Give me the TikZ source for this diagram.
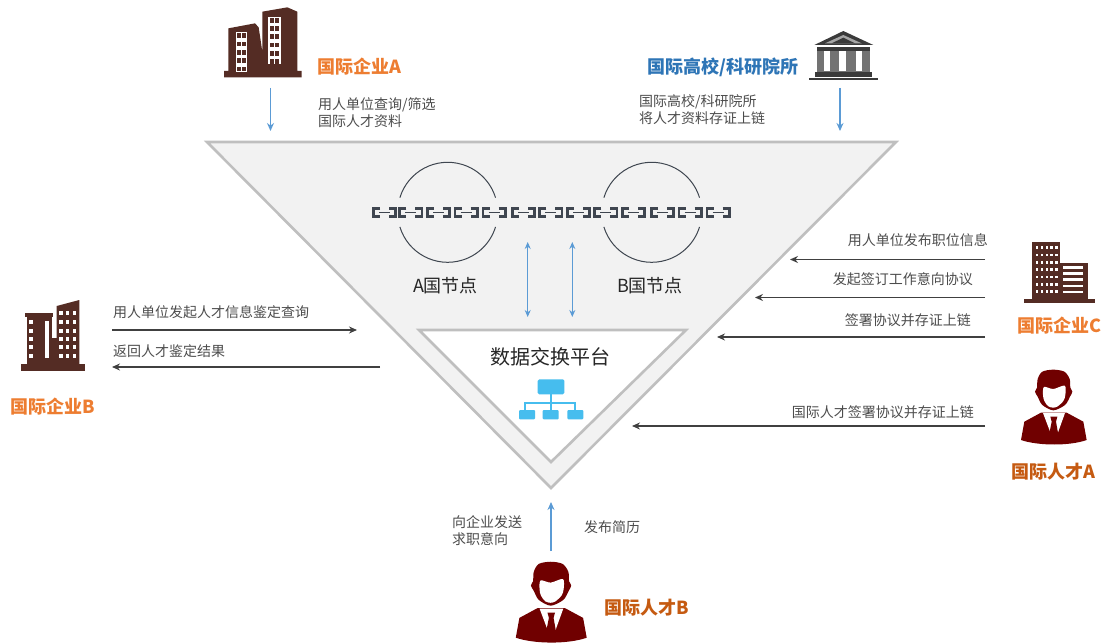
\documentclass[tikz,border=0pt]{standalone}
\usepackage{fontspec}
\setmainfont{Noto Sans CJK SC}
\usepackage{tikz}
\usetikzlibrary{positioning,arrows.meta}

\definecolor{brickdark}{HTML}{542C24}
\definecolor{suitred}{HTML}{700000}
\definecolor{templegray}{HTML}{3A3A3A}
\definecolor{chaingray}{HTML}{3F4650}
\definecolor{flowblue}{HTML}{5B9BD5}
\definecolor{netblue}{HTML}{46BDEE}
\definecolor{bandgray}{HTML}{F2F2F2}
\definecolor{edgegray}{HTML}{BFBFBF}
\definecolor{orgorange}{HTML}{ED7D31}
\definecolor{orgblue}{HTML}{2E75B6}
\definecolor{orgrust}{HTML}{C55A11}

\tikzset{
    person/.pic={
        \fill[suitred] plot[smooth cycle] coordinates {(115,14) (148,20) (164,42) (166,68) (172,80) (165,95) (150,120) (115,136) (82,120) (68,95) (60,80) (66,68) (68,42) (82,20)};
        \fill[white] plot[smooth cycle] coordinates {(87,66) (115,72) (149,62) (151,90) (145,108) (128,124) (115,128) (100,124) (88,108) (84,90)};
        \fill[suitred] (78,143) -- (28,170) -- (18,225) .. controls (70,243) and (165,243) .. (215,225) -- (205,170) -- (155,143) -- cycle;
        \fill[white] (84,144) -- (150,144) -- (128,205) -- (112,218) -- cycle;
        \fill[suitred] (106,155) -- (127,155) -- (123,170) -- (131,215) -- (116,234) -- (101,215) -- (110,170) -- cycle;
    },
    towerA/.pic={
        \fill[brickdark] (72,232) -- (72,213) -- (85,213) -- (85,85) -- (165,70) -- (176,82) -- (187,155) -- (187,35) -- (262,22) -- (292,35) -- (292,213) -- (305,213) -- (305,232) -- cycle;
        \fill[white] (108,95) rectangle (140,215);
        \fill[white] (205,50) rectangle (242,192);
        \foreach \cx in {118,132} \foreach \cy in {107,132,157,182,207}
            \fill[brickdark] (\cx-6,\cy-7) rectangle (\cx+5,\cy+7);
        \foreach \cx in {217,232} \foreach \cy in {61,85,110,135,160,184}
            \fill[brickdark] (\cx-6,\cy-7) rectangle (\cx+6,\cy+7);
    },
    towerB/.pic={
        \fill[brickdark] (63,222) rectangle (254,242);
        \fill[brickdark] (75,70) rectangle (160,80);
        \fill[brickdark] (80,78) rectangle (157,222);
        \fill[brickdark] (155,145) rectangle (172,222);
        \fill[brickdark] (170,48) -- (238,30) -- (238,222) -- (170,222) -- cycle;
        \fill[white] (134,92) rectangle (146,205);
        \foreach \cy in {97,122,148,172,197}
            \fill[white] (88,\cy-6) rectangle (100,\cy+6);
        \foreach \cx in {183,203,223} \foreach \cy in {70,96,122,146,172,197}
            \fill[white] (\cx-5,\cy-6) rectangle (\cx+5,\cy+6);
    },
    towerC/.pic={
        \fill[brickdark] (72,207) rectangle (284,220);
        \fill[brickdark] (95,35) rectangle (181,207);
        \fill[brickdark] (181,98) rectangle (264,207);
        \foreach \cx in {111,126,141,155,169} \foreach \cy in {53,75,97,119,141,163,185}
            \fill[white] (\cx-4,\cy-4) rectangle (\cx+4,\cy+4);
        \foreach \cy in {112,130,149,168,186}
            \fill[white] (189,\cy-4) rectangle (250,\cy+4);
    },
    temple/.pic={
        \fill[templegray] (115,18) -- (205,60) -- (28,60) -- cycle;
        \fill[gray!70] (115,30) -- (170,55) -- (60,55) -- cycle;
        \fill[templegray] (115,38) -- (150,55) -- (80,55) -- cycle;
        \fill[templegray] (35,66) rectangle (195,148);
        \fill[black!55] (35,78) rectangle (195,140);
        \fill[white] (57,78) rectangle (76,138);
        \fill[white] (103,78) rectangle (123,138);
        \fill[white] (152,78) rectangle (170,138);
        \fill[templegray] (30,142) rectangle (200,155);
        \fill[templegray] (12,160) rectangle (218,165);
    },
    chainlink/.pic={
        \draw[chaingray, line width=2.6pt] (8,-4.2) -- (1.3,-4.2) -- (1.3,4.2) -- (8,4.2);
        \draw[chaingray, line width=2.6pt] (17,-4.2) -- (23.7,-4.2) -- (23.7,4.2) -- (17,4.2);
        \draw[chaingray, line width=1.4pt] (7,0) -- (18,0);
    }
}

\begin{document}
\begin{tikzpicture}[
    x=1pt, y=-1pt,
    note/.style={inner sep=0pt, text=black!70, font=\fontsize{14}{17}\selectfont, align=left},
    nodename/.style={inner sep=0pt, text=black!85, font=\fontsize{18}{22}\selectfont},
    orgname/.style={inner sep=0pt, anchor=west, font=\fontsize{18}{22}\selectfont\bfseries},
    flow/.style={-{Stealth[length=8pt,width=7pt]}, flowblue, line width=1.4pt},
    flowboth/.style={{Stealth[length=7pt,width=6pt]}-{Stealth[length=7pt,width=6pt]}, flowblue, line width=1.1pt},
    msg/.style={-{Stealth[length=8pt,width=7pt]}, black!75, line width=1.2pt},
    ring/.style={chaingray, line width=1pt},
    band/.style={draw=edgegray, line width=2.6pt, line join=miter}
]
\useasboundingbox (0,0) rectangle (1105,644);

% Triangles
\coordinate (outerL) at (207,142);
\coordinate (outerR) at (896,142);
\coordinate (outerB) at (551,488);
\coordinate (innerL) at (419,330);
\coordinate (innerR) at (686,330);
\coordinate (innerB) at (551,462);
\draw[band, fill=bandgray] (outerL) -- (outerR) -- (outerB) -- cycle;
\draw[band, fill=white] (innerL) -- (innerR) -- (innerB) -- cycle;

% Nodes rings and chain
\draw[ring] (447.7,212.3) ++(163:50) arc[start angle=163, end angle=17, radius=50];
\draw[ring] (447.7,212.3) ++(197:50) arc[start angle=197, end angle=343, radius=50];
\draw[ring] (651.7,212.3) ++(163:50) arc[start angle=163, end angle=17, radius=50];
\draw[ring] (651.7,212.3) ++(197:50) arc[start angle=197, end angle=343, radius=50];
\foreach \lx in {372,398.3,426,453.7,481.7,511,538.3,566,593.3,621,650,677.7,705.7}
    \pic at (\lx,212.5) {chainlink};
\node[nodename] (nodeA) at (445.5,286) {A国节点};
\node[nodename] (nodeB) at (650,286) {B国节点};

% Platform
\node[inner sep=0pt, text=black!85, font=\fontsize{20}{24}\selectfont] (platform) at (550,357) {数据交换平台};
\draw[netblue, line width=1.4pt] (551,392) -- (551,403) (525,410) -- (525,403) -- (575,403) -- (575,410) (551,403) -- (551,412);
\fill[netblue, rounded corners=1.5pt] (537.7,379.3) rectangle (564.3,394.3);
\fill[netblue, rounded corners=1pt] (519,410) rectangle (535,419.3);
\fill[netblue, rounded corners=1pt] (542.7,410) rectangle (558.7,419.3);
\fill[netblue, rounded corners=1pt] (567.3,410) rectangle (583.3,419.3);

% Vertical links to the platform
\coordinate (linkAt) at (527.7,242);
\coordinate (linkAb) at (527.7,317);
\coordinate (linkBt) at (572.3,242);
\coordinate (linkBb) at (572.3,317);
\draw[flowboth] (linkAt) -- (linkAb);
\draw[flowboth] (linkBt) -- (linkBb);

% Icons
\pic[scale=1/3] at (200,0) {towerA};
\pic[scale=1/3] at (805,25) {temple};
\pic[scale=1/3] at (0,290) {towerB};
\pic[scale=1/3] at (1000,230) {towerC};
\pic[scale=1/3] at (1015,365) {person};
\pic[scale=.36] at (509.3,556.7) {person};

% Organisation names
\node[orgname, text=orgorange] (orgA) at (317,67) {国际企业A};
\node[orgname, text=orgblue] (orgU) at (647,67) {国际高校/科研院所};
\node[orgname, text=orgorange] (orgB) at (10,407) {国际企业B};
\node[orgname, text=orgorange] (orgC) at (1017,326) {国际企业C};
\node[orgname, text=orgrust] (talentA) at (1011,472) {国际人才A};
\node[orgname, text=orgrust] (talentB) at (604,608) {国际人才B};

% Top
\coordinate (topAs) at (270.5,88);
\coordinate (topAe) at (270.5,131);
\coordinate (topUs) at (840,88);
\coordinate (topUe) at (840,131);
\draw[flow] (topAs) -- (topAe);
\draw[flow] (topUs) -- (topUe);
\node[note, anchor=west] (noteA) at (318,112.5) {用人单位查询/筛选\\国际人才资料};
\node[note, anchor=west] (noteU) at (639,109.5) {国际高校/科研院所\\将人才资料存证上链};

% Right
\coordinate (c1s) at (985,259.5);
\coordinate (c1e) at (790,259.5);
\coordinate (c2s) at (985,297.5);
\coordinate (c2e) at (755,297.5);
\coordinate (c3s) at (985,337);
\coordinate (c3e) at (717,337);
\coordinate (t1s) at (985,426);
\coordinate (t1e) at (632,426);
\draw[msg] (c1s) -- (c1e);
\draw[msg] (c2s) -- (c2e);
\draw[msg] (c3s) -- (c3e);
\draw[msg] (t1s) -- (t1e);
\node[note, anchor=east] (noteC1) at (988,240) {用人单位发布职位信息};
\node[note, anchor=east] (noteC2) at (973,279) {发起签订工作意向协议};
\node[note, anchor=east] (noteC3) at (971,320) {签署协议并存证上链};
\node[note, anchor=east] (noteT1) at (974,412) {国际人才签署协议并存证上链};

% Left
\coordinate (b1s) at (112,330);
\coordinate (b1e) at (357,330);
\coordinate (b2s) at (380,367);
\coordinate (b2e) at (112,367);
\draw[msg] (b1s) -- (b1e);
\draw[msg] (b2s) -- (b2e);
\node[note, anchor=west] (noteB1) at (113,312) {用人单位发起人才信息鉴定查询};
\node[note, anchor=west] (noteB2) at (113,351) {返回人才鉴定结果};

% Bottom
\coordinate (botS) at (551,551);
\coordinate (botE) at (551,502);
\draw[flow] (botS) -- (botE);
\node[note, anchor=west] (noteT2) at (452,530.5) {向企业发送\\求职意向};
\node[note, anchor=west] (noteT3) at (584,527) {发布简历};

\end{tikzpicture}
\end{document}
